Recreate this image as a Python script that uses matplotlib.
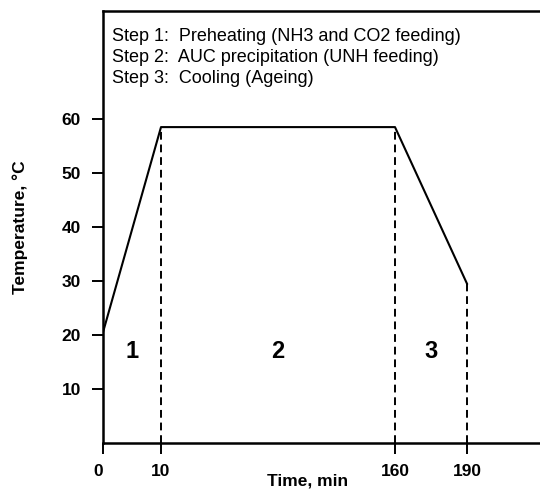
import numpy as np
import matplotlib
matplotlib.use("Agg")
import matplotlib.pyplot as plt

plt.rcParams['font.family'] = ['Liberation Sans', 'DejaVu Sans']

# temperature profile
time_pts = [0, 10, 160, 190]
temp_pts = [20.5, 58.5, 58.5, 29.5]
step_times = [10, 160, 190]
step_temps = [58.5, 58.5, 29.5]
step_labels = ['1', '2', '3']
step_label_x = [5, 85, 175]
step_label_y = 17
legend_lines = ['Step 1:  Preheating (NH3 and CO2 feeding)',
                'Step 2:  AUC precipitation (UNH feeding)',
                'Step 3:  Cooling (Ageing)']
xticks = [0, 10, 160, 190]
yticks = [10, 20, 30, 40, 50, 60]

# schematic (broken) time axis
t_knots = [0, 10, 160, 190, 220]
px_knots = [0, 58, 292, 364, 437]

def fwd(x):
    return np.interp(x, t_knots, px_knots)

def inv(p):
    return np.interp(p, px_knots, t_knots)

fig = plt.figure(figsize=(5.4, 4.92), dpi=100)
ax = fig.add_axes([103 / 540, 1 - 443 / 492, 437 / 540, 432 / 492])
ax.set_xscale('function', functions=(fwd, inv))
ax.set_xlim(0, 220)
ax.set_ylim(0, 80)

ax.plot(time_pts, temp_pts, color='black', lw=1.5)
for t, v in zip(step_times, step_temps):
    ax.plot([t, t], [0, v], color='black', lw=1.4, ls=(0, (4, 2.5)))

for lab, x in zip(step_labels, step_label_x):
    ax.text(x, step_label_y, lab, fontsize=17, fontweight='bold', ha='center', va='center')

for i, line in enumerate(legend_lines):
    ax.text(0.02, 0.942 - i * 0.049, line, transform=ax.transAxes, fontsize=13, va='center')

ax.spines['right'].set_visible(False)
for s in ['left', 'bottom', 'top']:
    ax.spines[s].set_linewidth(1.8)

ax.set_xticks(xticks)
ax.set_xticklabels([str(t) for t in xticks], fontsize=12.5, fontweight='bold')
ax.xaxis.set_minor_locator(matplotlib.ticker.NullLocator())
ax.set_yticks(yticks)
ax.set_yticklabels([str(v) for v in yticks], fontsize=12.5, fontweight='bold')
ax.tick_params(axis='both', direction='out', length=8, width=1.4)
ax.tick_params(axis='y', pad=8)
ax.tick_params(axis='x', pad=7)
ax.get_xticklabels()[0].set_horizontalalignment('right')

ax.set_xlabel('Time, min', fontsize=12.5, fontweight='bold')
ax.xaxis.set_label_coords((308 - 103) / 437, -31 / 432)
ax.xaxis.label.set_va('top')
ax.set_ylabel('Temperature, \u00b0C', fontsize=12.5, fontweight='bold')
ax.yaxis.set_label_coords(-75 / 437, 0.5)

fig.savefig('out.png', dpi=100)
